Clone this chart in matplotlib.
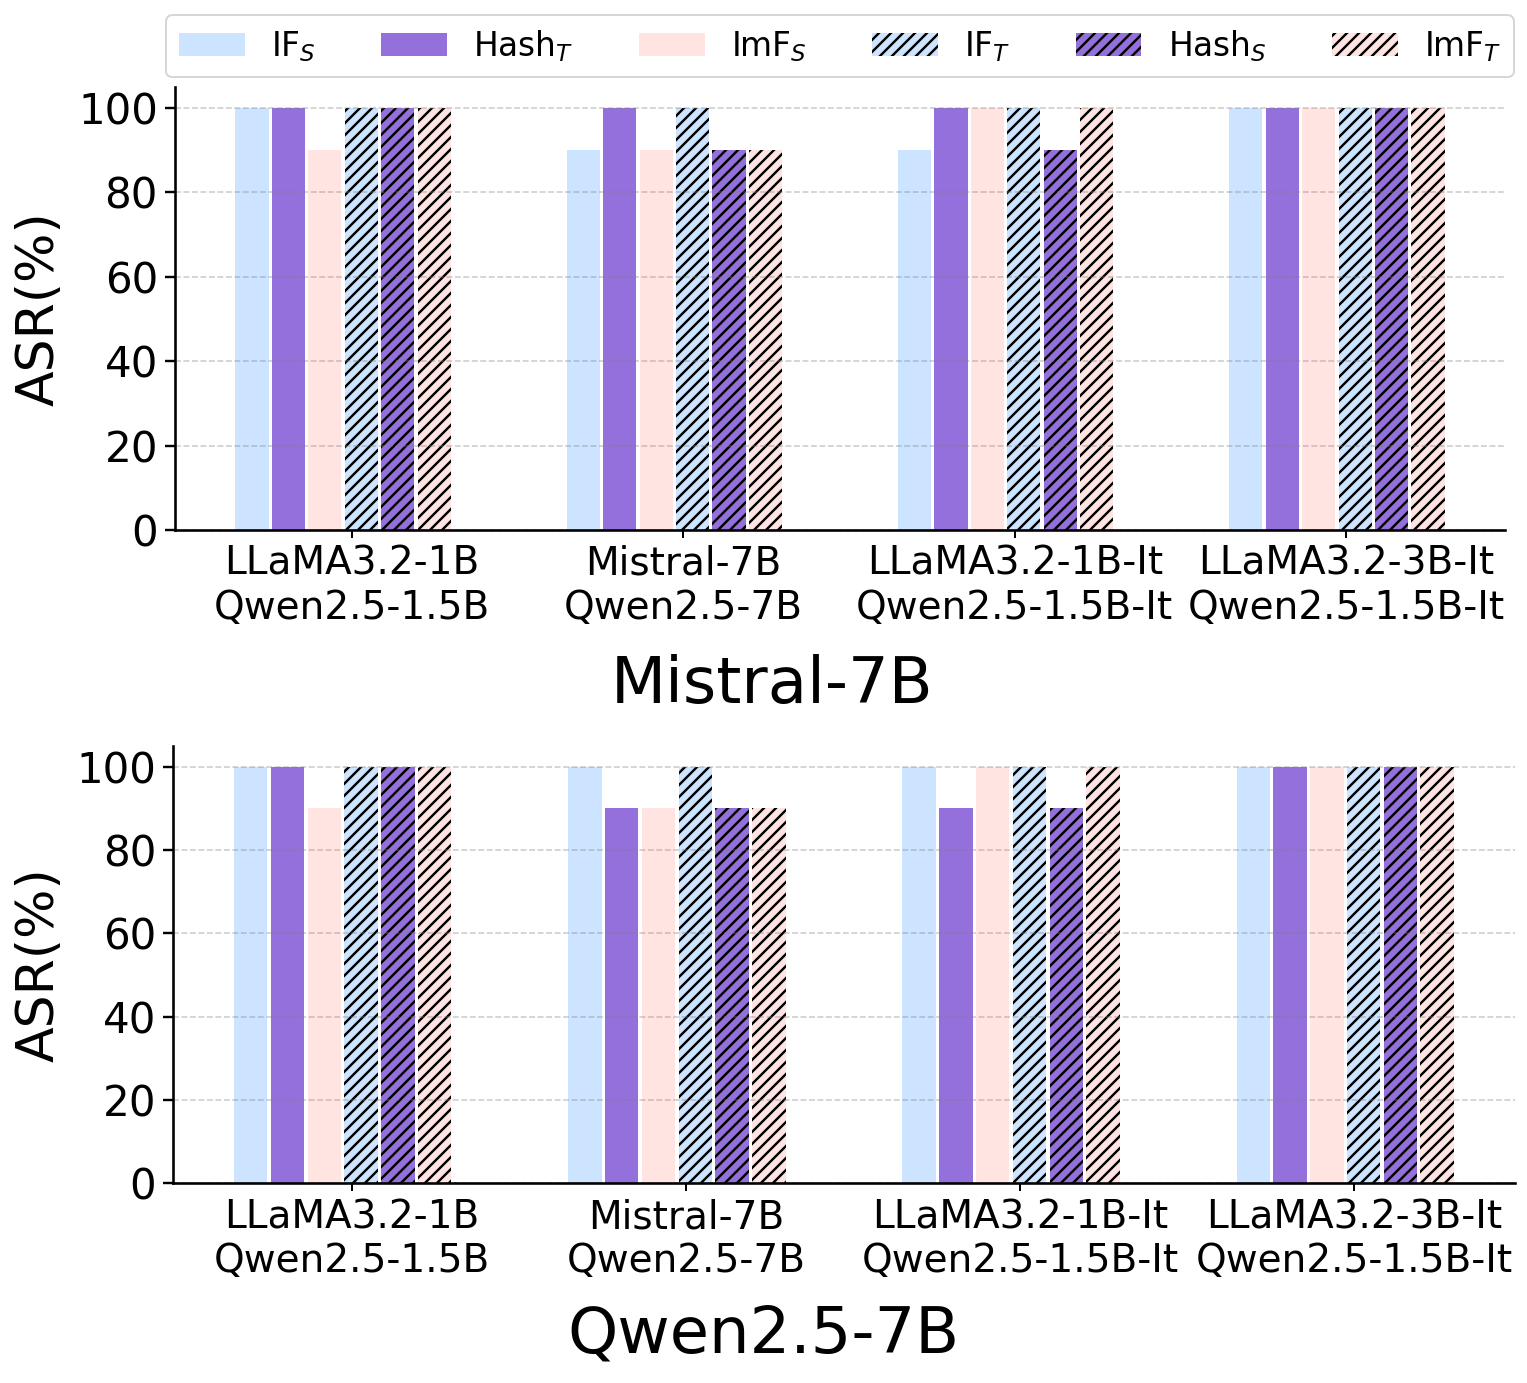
import matplotlib
matplotlib.use('Agg')
import matplotlib.pyplot as plt
import numpy as np

pairs = ['LLaMA3.2-1B\nQwen2.5-1.5B', 'Mistral-7B\nQwen2.5-7B',
         'LLaMA3.2-1B-It\nQwen2.5-1.5B-It', 'LLaMA3.2-3B-It\nQwen2.5-1.5B-It']
series_labels = ['IF$_S$', 'Hash$_T$', 'ImF$_S$', 'IF$_T$', 'Hash$_S$', 'ImF$_T$']
titles = ['Mistral-7B', 'Qwen2.5-7B']

# ASR (%) per target model, one list per series (order = series_labels)
mistral_asr = [
    [100, 90, 90, 100],    # IF_S
    [100, 100, 100, 100],  # Hash_T
    [90, 90, 100, 100],    # ImF_S
    [100, 100, 100, 100],  # IF_T
    [100, 90, 90, 100],    # Hash_S
    [100, 90, 100, 100],   # ImF_T
]
qwen_asr = [
    [100, 100, 100, 100],  # IF_S
    [100, 90, 90, 100],    # Hash_T
    [90, 90, 100, 100],    # ImF_S
    [100, 100, 100, 100],  # IF_T
    [100, 90, 90, 100],    # Hash_S
    [100, 90, 100, 100],   # ImF_T
]

colors = ['#cce4ff', '#9370db', '#ffe4e1', '#cce4ff', '#9370db', '#ffe4e1']
hatches = [None, None, None, '////', '////', '////']

plt.rcParams['hatch.linewidth'] = 1.2

fig = plt.figure(figsize=(1527 / 144, 1383 / 144), dpi=144)
ax1 = fig.add_axes([0.1146, 0.6168, 0.8710, 0.3203])
ax2 = fig.add_axes([0.1133, 0.1446, 0.8788, 0.3160])

x = np.arange(len(pairs))
width = 0.11

for ax, data in zip([ax1, ax2], [mistral_asr, qwen_asr]):
    for i, vals in enumerate(data):
        ax.bar(x + (i - 2.75) * width, vals, width * 0.91, color=colors[i],
               hatch=hatches[i], edgecolor='black', linewidth=0,
               label=series_labels[i])
    ax.set_ylim(0, 105)
    ax.set_yticks([0, 20, 40, 60, 80, 100])
    ax.set_xticks(x)
    ax.set_xticklabels(pairs, fontsize=19.5)
    ax.tick_params(axis='y', labelsize=21, length=5, width=1.2)
    ax.tick_params(axis='x', length=4, width=1.0)
    ax.set_ylabel('ASR(%)', fontsize=26)
    ax.grid(axis='y', linestyle='--', color='gray', alpha=0.4, linewidth=0.8)
    ax.spines['top'].set_visible(False)
    ax.spines['right'].set_visible(False)
    ax.spines['left'].set_linewidth(1.3)
    ax.spines['bottom'].set_linewidth(1.3)

ax1.yaxis.set_label_coords(-0.083, 0.5)
ax2.yaxis.set_label_coords(-0.081, 0.5)

ax1.legend(loc='lower center', bbox_to_anchor=(0.5, 1.0), ncol=6, fontsize=16.4,
           borderaxespad=0.3)

fig.text(0.5056, 0.4917, titles[0], fontsize=32, ha='center', va='baseline')
fig.text(0.4997, 0.0224, titles[1], fontsize=32, ha='center', va='baseline')

fig.savefig('out.png', dpi=144)
